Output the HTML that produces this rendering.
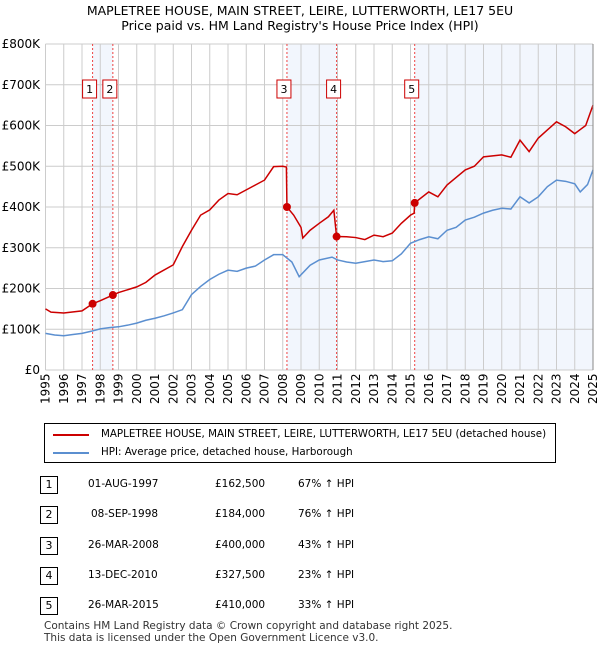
<!DOCTYPE html>
<html><head><meta charset="utf-8"><style>
body{margin:0;background:#fff;font-family:"DejaVu Sans","Liberation Sans",sans-serif;}
#wrap{position:relative;width:600px;height:650px;overflow:hidden;}
.t{position:absolute;font-size:12px;color:#000;white-space:nowrap;}
.num{position:absolute;left:40px;width:16px;height:16px;border:1px solid #000;font-size:11px;text-align:center;line-height:16px;}
</style></head><body><div id="wrap">
<div class="t" style="left:0;width:600px;text-align:center;top:3px;font-size:12.5px">MAPLETREE HOUSE, MAIN STREET, LEIRE, LUTTERWORTH, LE17 5EU<br>Price paid vs. HM Land Registry's House Price Index (HPI)</div>
<svg id="chart" width="600" height="420" style="position:absolute;left:0;top:0"></svg>
<div style="position:absolute;left:44px;top:423px;width:510px;height:38px;border:1px solid #000">
<div style="position:absolute;left:8px;top:10px;width:36px;height:2px;background:#cc0000"></div>
<div class="t" style="left:56px;top:4px;font-size:10.3px">MAPLETREE HOUSE, MAIN STREET, LEIRE, LUTTERWORTH, LE17 5EU (detached house)</div>
<div style="position:absolute;left:8px;top:28px;width:36px;height:2px;background:#5b8fd0"></div>
<div class="t" style="left:56px;top:22px;font-size:10.3px">HPI: Average price, detached house, Harborough</div>
</div>
<div id="tbl"></div>
<div class="t" style="left:44px;top:620px;font-size:10.5px;color:#333;line-height:12px">Contains HM Land Registry data © Crown copyright and database right 2025.<br>This data is licensed under the Open Government Licence v3.0.</div>
</div>
<script>
const saleYears=[1997.58,1998.69,2008.23,2010.95,2015.23];
const salePrices=[162500,184000,400000,327500,410000];
const saleDates=["01-AUG-1997","08-SEP-1998","26-MAR-2008","13-DEC-2010","26-MAR-2015"];
const salePriceLabels=["£162,500","£184,000","£400,000","£327,500","£410,000"];
const saleHpi=["67% ↑ HPI","76% ↑ HPI","43% ↑ HPI","23% ↑ HPI","33% ↑ HPI"];
const hpiYears=[1995,1995.5,1996,1996.5,1997,1997.5,1998,1998.5,1999,1999.5,2000,2000.5,2001,2001.5,2002,2002.5,2003,2003.5,2004,2004.5,2005,2005.5,2006,2006.5,2007,2007.5,2008,2008.5,2008.9,2009.5,2010,2010.7,2011,2011.5,2012,2012.5,2013,2013.5,2014,2014.5,2015,2015.5,2016,2016.5,2017,2017.5,2018,2018.5,2019,2019.5,2020,2020.5,2021,2021.5,2022,2022.5,2023,2023.5,2024,2024.3,2024.7,2025];
const hpiValues=[90,86,84,87,90,95,101,104,106,110,115,122,127,133,140,148,185,205,222,235,245,242,250,255,270,283,283,265,229,257,270,277,270,265,262,266,270,266,268,285,311,320,327,322,343,350,368,375,385,392,397,395,425,410,425,450,466,463,457,437,455,491];
const propYears=[1995,1995.3,1996,1997,1997.58,1998,1998.69,1999,2000,2000.5,2001,2002,2002.5,2003,2003.5,2004,2004.5,2005,2005.5,2006,2006.5,2007,2007.5,2008,2008.2,2008.23,2008.6,2009.0,2009.1,2009.5,2010,2010.5,2010.8,2010.95,2011.5,2012,2012.5,2013,2013.5,2014,2014.5,2015,2015.2,2015.23,2016,2016.5,2017,2018,2018.5,2019,2020,2020.5,2021,2021.5,2022,2022.5,2023,2023.5,2024,2024.3,2024.6,2025];
const propValues=[150,142,140,145,162.5,170,184,190,204,215,233,258,303,343,380,393,417,433,430,442,454,466,499,500,498,400,380,350,324,343,360,376,392,327.5,327,325,320,331,327,336,360,380,385,410,437,425,454,491,500,523,528,522,564,536,569,589,609,597,580,590,600,650];
const yTicks=[0,100,200,300,400,500,600,700,800];
const yTickLabels=["£0","£100K","£200K","£300K","£400K","£500K","£600K","£700K","£800K"];
const xTicks=[1995,1996,1997,1998,1999,2000,2001,2002,2003,2004,2005,2006,2007,2008,2009,2010,2011,2012,2013,2014,2015,2016,2017,2018,2019,2020,2021,2022,2023,2024,2025];
const X0=45.5,X1=593,Y0=370,Y1=44;
const xs=y=>X0+(y-1995)/30*(X1-X0);
const ys=v=>Y0-v/800*(Y0-Y1);
const svg=document.getElementById('chart');const NS='http://www.w3.org/2000/svg';
function mk(t,a,p){const e=document.createElementNS(NS,t);for(const k in a)e.setAttribute(k,a[k]);(p||svg).appendChild(e);return e;}
const shade=[[0,1],[2,3],[4,null]];
shade.forEach(([a,b])=>{const r=mk('rect',{x:xs(saleYears[a]),y:Y1,width:(b===null?X1:xs(saleYears[b]))-xs(saleYears[a]),height:Y0-Y1,fill:'#f2f6fd'});

});
yTicks.forEach((v,i)=>{const l=mk('line',{x1:X0,x2:X1,y1:ys(v),y2:ys(v),stroke:'#cccccc'});


const t=mk('text',{x:40,y:ys(v)+4,'text-anchor':'end','font-size':12,'font-family':'DejaVu Sans,Liberation Sans,sans-serif'});t.textContent=yTickLabels[i];

});
xTicks.forEach(y=>{const l=mk('line',{x1:xs(y),x2:xs(y),y1:Y1,y2:Y0,stroke:'#cccccc'});


const t=mk('text',{transform:`translate(${xs(y)+4},${Y0+34}) rotate(-90)`,'font-size':12,'font-family':'DejaVu Sans,Liberation Sans,sans-serif'});t.textContent=y;

});
saleYears.forEach((y,i)=>{const l=mk('line',{x1:xs(y),x2:xs(y),y1:Y1,y2:Y0,stroke:'#ee4444','stroke-dasharray':'2,2'});


const cx=xs(y)-3;
const r=mk('rect',{x:cx-7,y:80,width:14,height:18,fill:'#fff',stroke:'#cc0000'});


const t=mk('text',{x:cx,y:93,'text-anchor':'middle','font-size':11,'font-family':'DejaVu Sans,Liberation Sans,sans-serif'});t.textContent=i+1;

});
const hp=mk('polyline',{points:hpiYears.map((y,i)=>xs(y)+','+ys(hpiValues[i])).join(' '),fill:'none',stroke:'#5b8fd0','stroke-width':1.5});


const pp=mk('polyline',{points:propYears.map((y,i)=>xs(y)+','+ys(propValues[i])).join(' '),fill:'none',stroke:'#cc0000','stroke-width':1.5});


saleYears.forEach((y,i)=>{const c=mk('circle',{cx:xs(y),cy:ys(salePrices[i]/1000),r:4,fill:'#cc0000'});

});
mk('line',{x1:X1,x2:X1,y1:Y1,y2:Y0,stroke:'#888'});
const tbl=document.getElementById('tbl');
saleDates.forEach((d,i)=>{const top=476+i*30.3;const row=document.createElement('div');


row.innerHTML=`<div class="num" style="top:${top}px">${i+1}</div><div class="t" style="left:${i===1?91:88}px;top:${top+2}px;font-size:10.5px">${d}</div><div class="t" style="left:215px;top:${top+2}px;font-size:10.5px">${salePriceLabels[i]}</div><div class="t" style="left:298px;top:${top+2}px;font-size:10.5px">${saleHpi[i]}</div>`;
tbl.appendChild(row);});
</script></body></html>
